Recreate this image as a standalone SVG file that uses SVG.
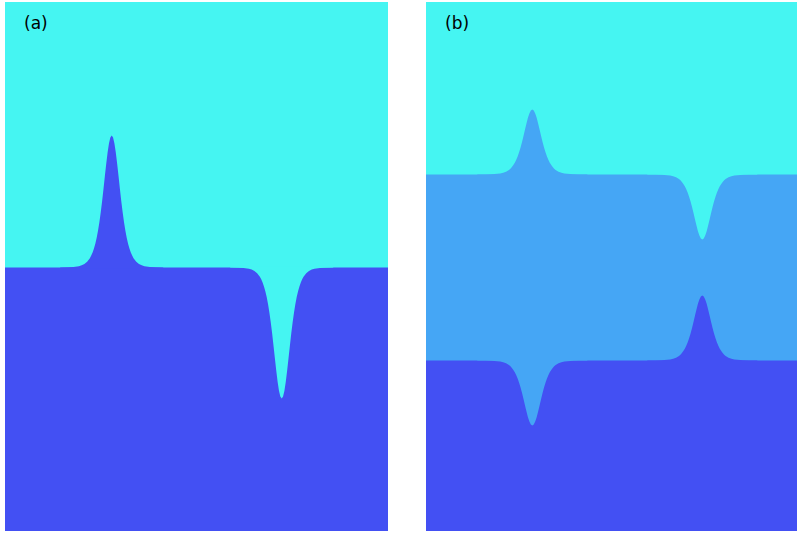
<svg xmlns="http://www.w3.org/2000/svg" width="798" height="533" viewBox="0 0 798 533">
<style>
.cy{fill:#45F5F2}
.md{fill:#45A6F5}
.dk{fill:#4350F3}
.lb{font-family:"DejaVu Sans",sans-serif;font-size:17px;fill:#000}
</style>
<defs>
<path id="bump" d="M-50,1 L-50,0 L-42.4,-0.18 L-37.1,-0.48 L-31.8,-1.3 L-29.15,-2.14 L-26.5,-3.51 L-23.85,-5.74 L-21.2,-9.33 L-19.875,-11.89 L-18.55,-15.02 L-17.225,-19.06 L-15.9,-23.85 L-14.575,-29.81 L-13.25,-37 L-11.925,-45.57 L-10.6,-55.44 L-9.275,-66.61 L-7.95,-78.75 L-6.625,-91.41 L-5.3,-103.8 L-3.975,-115.05 L-2.65,-124.1 L-1.325,-129.97 L0,-132 L1.325,-129.97 L2.65,-124.1 L3.975,-115.05 L5.3,-103.8 L6.625,-91.41 L7.95,-78.75 L9.275,-66.61 L10.6,-55.44 L11.925,-45.57 L13.25,-37 L14.575,-29.81 L15.9,-23.85 L17.225,-19.06 L18.55,-15.02 L19.875,-11.89 L21.2,-9.33 L23.85,-5.74 L26.5,-3.51 L29.15,-2.14 L31.8,-1.3 L37.1,-0.48 L42.4,-0.18 L50,0 L50,1 Z"/>
</defs>
<rect width="798" height="533" fill="#ffffff"/>
<g id="panel-a">
<rect class="cy" x="5" y="2" width="383" height="529"/>
<rect class="dk" x="5" y="267.5" width="383" height="263.5"/>
<use href="#bump" class="dk" transform="translate(111.7,267.5) scale(1.03,1)"/>
<use href="#bump" class="cy" transform="translate(281.7,267.5) scale(1.03,-0.9924)"/>
<text class="lb" x="24" y="29">(a)</text>
</g>
<g id="panel-b">
<rect class="md" x="426" y="2" width="371" height="529"/>
<rect class="cy" x="426" y="2" width="371" height="172.5"/>
<rect class="dk" x="426" y="360.5" width="371" height="170.5"/>
<use href="#bump" class="md" transform="translate(532.3,174.5) scale(1.1,0.4924)"/>
<use href="#bump" class="cy" transform="translate(702.3,174.5) scale(1.1,-0.4924)"/>
<use href="#bump" class="md" transform="translate(532.3,360.5) scale(1.1,-0.4924)"/>
<use href="#bump" class="dk" transform="translate(702.3,360.5) scale(1.1,0.4924)"/>
<text class="lb" x="445" y="29">(b)</text>
</g>
<g id="connectors"/>
</svg>
